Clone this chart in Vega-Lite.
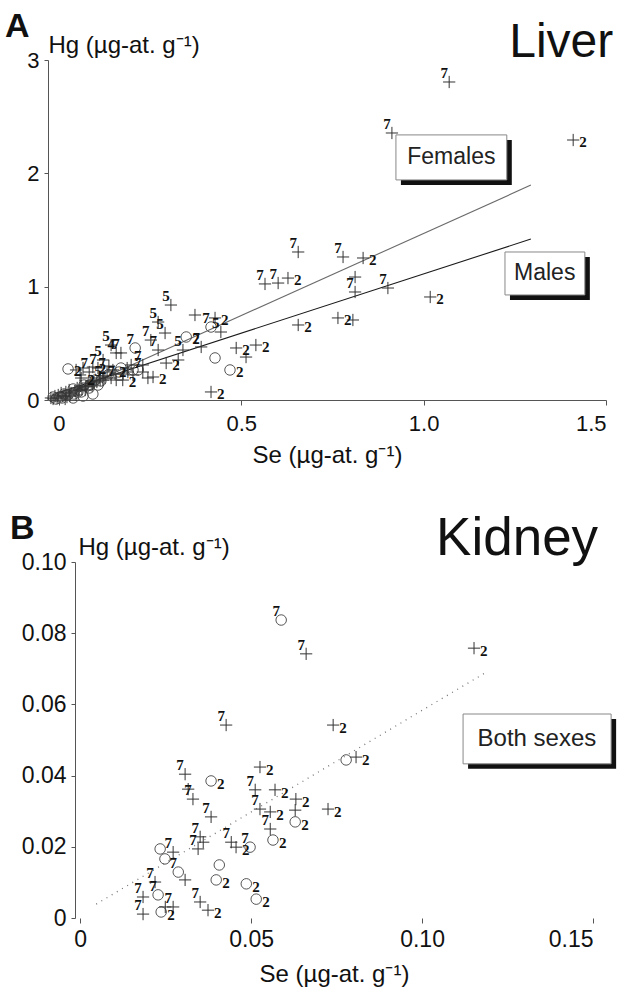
{
  "$schema": "https://vega.github.io/schema/vega-lite/v6.json",
  "background": "white",
  "padding": {"left": 4, "top": 9, "right": 2, "bottom": 2},
  "spacing": 44,
  "config": {
    "view": {"stroke": null},
    "font": "Liberation Sans",
    "axis": {"grid": false, "domainColor": "#555", "tickColor": "#555", "labelColor": "#111", "titleColor": "#111", "labelFont": "Liberation Sans", "titleFont": "Liberation Sans", "titleFontWeight": "normal", "tickSize": 5}
  },
  "datasets": {
    "liver": [
      {"se": 1.070, "hg": 2.806, "sex": "M", "lab": "7"},
      {"se": 0.913, "hg": 2.356, "sex": "M", "lab": "7"},
      {"se": 1.410, "hg": 2.294, "sex": "M", "lab": "2"},
      {"se": 0.656, "hg": 1.306, "sex": "M", "lab": "7"},
      {"se": 0.779, "hg": 1.262, "sex": "M", "lab": "7"},
      {"se": 0.834, "hg": 1.253, "sex": "M", "lab": "2"},
      {"se": 0.812, "hg": 1.085, "sex": "M", "lab": ""},
      {"se": 0.812, "hg": 0.953, "sex": "M", "lab": "7"},
      {"se": 0.902, "hg": 0.988, "sex": "M", "lab": "7"},
      {"se": 1.018, "hg": 0.909, "sex": "M", "lab": "2"},
      {"se": 0.765, "hg": 0.724, "sex": "M", "lab": "2"},
      {"se": 0.806, "hg": 0.706, "sex": "M", "lab": ""},
      {"se": 0.565, "hg": 1.024, "sex": "M", "lab": "7"},
      {"se": 0.601, "hg": 1.032, "sex": "M", "lab": "7"},
      {"se": 0.628, "hg": 1.076, "sex": "M", "lab": "2"},
      {"se": 0.656, "hg": 0.662, "sex": "M", "lab": "2"},
      {"se": 0.307, "hg": 0.838, "sex": "M", "lab": "5"},
      {"se": 0.373, "hg": 0.750, "sex": "M", "lab": ""},
      {"se": 0.428, "hg": 0.724, "sex": "M", "lab": "2"},
      {"se": 0.417, "hg": 0.644, "sex": "F", "lab": "7"},
      {"se": 0.444, "hg": 0.600, "sex": "M", "lab": "5"},
      {"se": 0.349, "hg": 0.556, "sex": "F", "lab": "2"},
      {"se": 0.272, "hg": 0.688, "sex": "M", "lab": "5"},
      {"se": 0.291, "hg": 0.591, "sex": "M", "lab": "5"},
      {"se": 0.390, "hg": 0.468, "sex": "M", "lab": "7"},
      {"se": 0.340, "hg": 0.441, "sex": "M", "lab": "5"},
      {"se": 0.486, "hg": 0.459, "sex": "M", "lab": "2"},
      {"se": 0.540, "hg": 0.485, "sex": "M", "lab": "2"},
      {"se": 0.513, "hg": 0.379, "sex": "M", "lab": ""},
      {"se": 0.428, "hg": 0.371, "sex": "F", "lab": ""},
      {"se": 0.469, "hg": 0.265, "sex": "F", "lab": "2"},
      {"se": 0.417, "hg": 0.071, "sex": "M", "lab": "2"},
      {"se": 0.025, "hg": 0.274, "sex": "F", "lab": "2"},
      {"se": 0.157, "hg": 0.415, "sex": "M", "lab": "4"},
      {"se": 0.170, "hg": 0.415, "sex": "M", "lab": "7"},
      {"se": 0.143, "hg": 0.485, "sex": "M", "lab": "5"},
      {"se": 0.121, "hg": 0.353, "sex": "M", "lab": "5"},
      {"se": 0.209, "hg": 0.459, "sex": "F", "lab": "7"},
      {"se": 0.252, "hg": 0.529, "sex": "M", "lab": "7"},
      {"se": 0.272, "hg": 0.441, "sex": "M", "lab": "7"},
      {"se": 0.258, "hg": 0.203, "sex": "M", "lab": "2"},
      {"se": 0.294, "hg": 0.326, "sex": "M", "lab": "2"},
      {"se": 0.175, "hg": 0.176, "sex": "M", "lab": "2"},
      {"se": 0.157, "hg": 0.176, "sex": "M", "lab": "7"},
      {"se": 0.121, "hg": 0.176, "sex": "M", "lab": "5"},
      {"se": 0.058, "hg": 0.221, "sex": "M", "lab": ""},
      {"se": 0.047, "hg": 0.265, "sex": "M", "lab": ""},
      {"se": 0.066, "hg": 0.282, "sex": "M", "lab": ""},
      {"se": 0.093, "hg": 0.291, "sex": "M", "lab": "2"},
      {"se": 0.107, "hg": 0.282, "sex": "M", "lab": "7"},
      {"se": 0.230, "hg": 0.309, "sex": "M", "lab": "7"},
      {"se": 0.203, "hg": 0.265, "sex": "F", "lab": ""},
      {"se": 0.327, "hg": 0.353, "sex": "M", "lab": ""},
      {"se": -0.022, "hg": 0.018, "sex": "M", "lab": ""},
      {"se": -0.016, "hg": 0.026, "sex": "F", "lab": ""},
      {"se": -0.011, "hg": 0.035, "sex": "M", "lab": ""},
      {"se": -0.008, "hg": 0.009, "sex": "F", "lab": ""},
      {"se": -0.002, "hg": 0.044, "sex": "M", "lab": ""},
      {"se": 0.003, "hg": 0.026, "sex": "F", "lab": ""},
      {"se": 0.006, "hg": 0.062, "sex": "M", "lab": ""},
      {"se": 0.011, "hg": 0.035, "sex": "M", "lab": ""},
      {"se": 0.014, "hg": 0.053, "sex": "F", "lab": ""},
      {"se": 0.019, "hg": 0.071, "sex": "M", "lab": ""},
      {"se": 0.025, "hg": 0.044, "sex": "F", "lab": ""},
      {"se": 0.028, "hg": 0.088, "sex": "M", "lab": ""},
      {"se": 0.033, "hg": 0.062, "sex": "M", "lab": ""},
      {"se": 0.039, "hg": 0.097, "sex": "F", "lab": ""},
      {"se": 0.044, "hg": 0.079, "sex": "M", "lab": ""},
      {"se": 0.050, "hg": 0.106, "sex": "M", "lab": ""},
      {"se": 0.052, "hg": 0.071, "sex": "F", "lab": ""},
      {"se": 0.058, "hg": 0.124, "sex": "M", "lab": ""},
      {"se": 0.063, "hg": 0.097, "sex": "M", "lab": ""},
      {"se": 0.069, "hg": 0.132, "sex": "F", "lab": ""},
      {"se": 0.074, "hg": 0.115, "sex": "M", "lab": ""},
      {"se": 0.080, "hg": 0.150, "sex": "M", "lab": ""},
      {"se": 0.085, "hg": 0.132, "sex": "F", "lab": ""},
      {"se": 0.088, "hg": 0.168, "sex": "M", "lab": ""},
      {"se": 0.093, "hg": 0.141, "sex": "M", "lab": ""},
      {"se": 0.099, "hg": 0.176, "sex": "F", "lab": ""},
      {"se": 0.104, "hg": 0.159, "sex": "M", "lab": ""},
      {"se": 0.110, "hg": 0.194, "sex": "M", "lab": ""},
      {"se": 0.115, "hg": 0.168, "sex": "F", "lab": ""},
      {"se": 0.121, "hg": 0.212, "sex": "M", "lab": ""},
      {"se": 0.017, "hg": 0.009, "sex": "M", "lab": ""},
      {"se": 0.039, "hg": 0.018, "sex": "F", "lab": ""},
      {"se": 0.066, "hg": 0.035, "sex": "F", "lab": ""},
      {"se": 0.093, "hg": 0.053, "sex": "F", "lab": ""},
      {"se": 0.061, "hg": 0.194, "sex": "M", "lab": "2"},
      {"se": 0.083, "hg": 0.247, "sex": "M", "lab": "7"},
      {"se": 0.132, "hg": 0.247, "sex": "M", "lab": "7"},
      {"se": 0.148, "hg": 0.265, "sex": "M", "lab": "2"},
      {"se": 0.137, "hg": 0.300, "sex": "M", "lab": ""},
      {"se": 0.170, "hg": 0.282, "sex": "F", "lab": ""},
      {"se": 0.189, "hg": 0.247, "sex": "M", "lab": ""},
      {"se": 0.198, "hg": 0.309, "sex": "M", "lab": ""},
      {"se": 0.230, "hg": 0.247, "sex": "M", "lab": "7"},
      {"se": 0.244, "hg": 0.194, "sex": "M", "lab": ""},
      {"se": -0.016, "hg": 0.009, "sex": "M", "lab": ""},
      {"se": -0.005, "hg": 0.018, "sex": "M", "lab": ""},
      {"se": 0.008, "hg": 0.018, "sex": "F", "lab": ""},
      {"se": 0.022, "hg": 0.026, "sex": "M", "lab": ""},
      {"se": 0.030, "hg": 0.035, "sex": "M", "lab": ""},
      {"se": 0.041, "hg": 0.053, "sex": "F", "lab": ""},
      {"se": 0.047, "hg": 0.044, "sex": "M", "lab": ""},
      {"se": 0.055, "hg": 0.088, "sex": "M", "lab": ""},
      {"se": 0.061, "hg": 0.071, "sex": "F", "lab": ""},
      {"se": 0.072, "hg": 0.088, "sex": "M", "lab": ""},
      {"se": 0.077, "hg": 0.124, "sex": "M", "lab": ""},
      {"se": 0.083, "hg": 0.106, "sex": "F", "lab": ""},
      {"se": 0.091, "hg": 0.124, "sex": "M", "lab": ""},
      {"se": 0.096, "hg": 0.159, "sex": "M", "lab": ""},
      {"se": 0.107, "hg": 0.132, "sex": "F", "lab": ""},
      {"se": 0.113, "hg": 0.176, "sex": "M", "lab": ""},
      {"se": 0.126, "hg": 0.194, "sex": "M", "lab": ""},
      {"se": 0.135, "hg": 0.221, "sex": "F", "lab": ""},
      {"se": 0.143, "hg": 0.194, "sex": "M", "lab": ""},
      {"se": 0.154, "hg": 0.229, "sex": "M", "lab": ""},
      {"se": 0.165, "hg": 0.247, "sex": "F", "lab": ""},
      {"se": 0.176, "hg": 0.229, "sex": "M", "lab": ""},
      {"se": 0.187, "hg": 0.282, "sex": "M", "lab": ""},
      {"se": 0.203, "hg": 0.221, "sex": "M", "lab": ""},
      {"se": 0.217, "hg": 0.265, "sex": "F", "lab": ""}
    ],
    "kidney": [
      {"se": 0.0588, "hg": 0.0837, "sex": "F", "lab": "7"},
      {"se": 0.0661, "hg": 0.0742, "sex": "M", "lab": "7"},
      {"se": 0.1152, "hg": 0.0758, "sex": "M", "lab": "2"},
      {"se": 0.0740, "hg": 0.0542, "sex": "M", "lab": "2"},
      {"se": 0.0778, "hg": 0.0444, "sex": "F", "lab": ""},
      {"se": 0.0807, "hg": 0.0452, "sex": "M", "lab": "2"},
      {"se": 0.0427, "hg": 0.0542, "sex": "M", "lab": "7"},
      {"se": 0.0526, "hg": 0.0424, "sex": "M", "lab": "2"},
      {"se": 0.0307, "hg": 0.0404, "sex": "M", "lab": "7"},
      {"se": 0.0383, "hg": 0.0385, "sex": "F", "lab": "2"},
      {"se": 0.0316, "hg": 0.0362, "sex": "M", "lab": ""},
      {"se": 0.0330, "hg": 0.0334, "sex": "M", "lab": "7"},
      {"se": 0.0512, "hg": 0.0360, "sex": "M", "lab": "7"},
      {"se": 0.0570, "hg": 0.0360, "sex": "M", "lab": "2"},
      {"se": 0.0631, "hg": 0.0334, "sex": "M", "lab": "2"},
      {"se": 0.0629, "hg": 0.0303, "sex": "M", "lab": ""},
      {"se": 0.0526, "hg": 0.0306, "sex": "M", "lab": "7"},
      {"se": 0.0556, "hg": 0.0298, "sex": "M", "lab": "2"},
      {"se": 0.0725, "hg": 0.0306, "sex": "M", "lab": "2"},
      {"se": 0.0383, "hg": 0.0284, "sex": "M", "lab": "7"},
      {"se": 0.0629, "hg": 0.0270, "sex": "F", "lab": "2"},
      {"se": 0.0556, "hg": 0.0250, "sex": "M", "lab": "7"},
      {"se": 0.0564, "hg": 0.0219, "sex": "F", "lab": "2"},
      {"se": 0.0351, "hg": 0.0228, "sex": "M", "lab": "7"},
      {"se": 0.0360, "hg": 0.0213, "sex": "M", "lab": ""},
      {"se": 0.0345, "hg": 0.0194, "sex": "M", "lab": "7"},
      {"se": 0.0442, "hg": 0.0213, "sex": "M", "lab": "7"},
      {"se": 0.0456, "hg": 0.0199, "sex": "M", "lab": "2"},
      {"se": 0.0497, "hg": 0.0199, "sex": "F", "lab": "7"},
      {"se": 0.0234, "hg": 0.0194, "sex": "F", "lab": ""},
      {"se": 0.0272, "hg": 0.0185, "sex": "M", "lab": "7"},
      {"se": 0.0248, "hg": 0.0166, "sex": "F", "lab": ""},
      {"se": 0.0287, "hg": 0.0129, "sex": "F", "lab": "7"},
      {"se": 0.0307, "hg": 0.0107, "sex": "M", "lab": ""},
      {"se": 0.0407, "hg": 0.0149, "sex": "F", "lab": ""},
      {"se": 0.0398, "hg": 0.0107, "sex": "F", "lab": "2"},
      {"se": 0.0486, "hg": 0.0096, "sex": "F", "lab": "2"},
      {"se": 0.0515, "hg": 0.0053, "sex": "F", "lab": "2"},
      {"se": 0.0219, "hg": 0.0101, "sex": "M", "lab": "7"},
      {"se": 0.0184, "hg": 0.0059, "sex": "M", "lab": "7"},
      {"se": 0.0228, "hg": 0.0065, "sex": "F", "lab": "7"},
      {"se": 0.0184, "hg": 0.0011, "sex": "M", "lab": "7"},
      {"se": 0.0237, "hg": 0.0017, "sex": "F", "lab": "2"},
      {"se": 0.0249, "hg": 0.0031, "sex": "M", "lab": ""},
      {"se": 0.0272, "hg": 0.0031, "sex": "M", "lab": "7"},
      {"se": 0.0351, "hg": 0.0045, "sex": "M", "lab": "7"},
      {"se": 0.0374, "hg": 0.0022, "sex": "M", "lab": "2"}
    ],
    "liverLines": [
      {"se": 0.0, "hg": 0.02, "g": "Females"},
      {"se": 1.294, "hg": 1.896, "g": "Females"},
      {"se": 0.0, "hg": 0.067, "g": "Males"},
      {"se": 1.294, "hg": 1.42, "g": "Males"}
    ],
    "kidneyLine": [
      {"se": 0.0047, "hg": 0.0039},
      {"se": 0.1187, "hg": 0.069}
    ],
    "liverBoxes": [
      {"se": 0.924, "se2": 1.228, "hg": 1.942, "hg2": 2.339, "cx": 1.076, "cy": 2.14, "t": "Females"},
      {"se": 1.223, "se2": 1.442, "hg": 0.927, "hg2": 1.306, "cx": 1.332, "cy": 1.117, "t": "Males"}
    ],
    "kidneyBoxes": [
      {"se": 0.112, "se2": 0.1553, "hg": 0.0433, "hg2": 0.0573, "cx": 0.1336, "cy": 0.0503, "t": "Both sexes"}
    ],
    "liverText": [
      {"cx": 1.52, "cy": 3.03, "t": "Liver", "k": "title"},
      {"cx": -0.148, "cy": 3.204, "t": "A", "k": "letter"}
    ],
    "kidneyText": [
      {"cx": 0.1515, "cy": 0.102, "t": "Kidney", "k": "title"},
      {"cx": -0.0205, "cy": 0.1065, "t": "B", "k": "letter"}
    ]
  },
  "vconcat": [
    {
      "width": 558,
      "height": 340,
      "layer": [
        {
          "data": {"name": "liverLines"},
          "mark": {"type": "line", "strokeWidth": 1.1},
          "encoding": {
            "x": {"field": "se", "type": "quantitative", "scale": {"domain": [-0.03, 1.5], "nice": false, "zero": false},
              "axis": {"values": [0, 0.5, 1, 1.5], "labelExpr": "datum.value == 0 ? '0' : format(datum.value, '.1f')", "title": "Se (µg-at. g⁻¹)", "labelFontSize": 22, "titleFontSize": 24, "labelPadding": 8, "titlePadding": 9}},
            "y": {"field": "hg", "type": "quantitative", "scale": {"domain": [0, 3], "nice": false, "zero": false},
              "axis": {"values": [0, 1, 2, 3], "format": "d", "title": "Hg (µg-at. g⁻¹)", "titleAngle": 0, "titleAlign": "left", "titleBaseline": "alphabetic", "titleX": 0, "titleY": -8, "titleFontSize": 24, "labelFontSize": 22, "tickSize": 4, "labelPadding": 5}},
            "detail": {"field": "g"},
            "color": {"field": "g", "type": "nominal", "scale": {"domain": ["Females", "Males"], "range": ["#6a6a6a", "#1a1a1a"]}, "legend": null}
          }
        },
        {
          "data": {"name": "liverBoxes"},
          "mark": {"type": "rect", "fill": "#111", "xOffset": 5, "x2Offset": 5, "yOffset": 5, "y2Offset": 5},
          "encoding": {
            "x": {"field": "se", "type": "quantitative"}, "x2": {"field": "se2"},
            "y": {"field": "hg", "type": "quantitative"}, "y2": {"field": "hg2"}
          }
        },
        {
          "data": {"name": "liverBoxes"},
          "mark": {"type": "rect", "fill": "white", "stroke": "#888", "strokeWidth": 1},
          "encoding": {
            "x": {"field": "se", "type": "quantitative"}, "x2": {"field": "se2"},
            "y": {"field": "hg", "type": "quantitative"}, "y2": {"field": "hg2"}
          }
        },
        {
          "data": {"name": "liverBoxes"},
          "mark": {"type": "text", "fontSize": 23, "align": "center", "baseline": "middle", "color": "#222"},
          "encoding": {
            "x": {"field": "cx", "type": "quantitative"},
            "y": {"field": "cy", "type": "quantitative"},
            "text": {"field": "t"}
          }
        },
        {
          "data": {"name": "liver"},
          "transform": [{"filter": "datum.sex == 'F'"}],
          "mark": {"type": "point", "shape": "circle", "filled": false, "stroke": "#555", "strokeWidth": 1, "size": 110, "opacity": 1},
          "encoding": {
            "x": {"field": "se", "type": "quantitative"},
            "y": {"field": "hg", "type": "quantitative"}
          }
        },
        {
          "data": {"name": "liver"},
          "transform": [{"filter": "datum.sex == 'M'"}],
          "mark": {"type": "point", "shape": "M-1,0H1M0,-1V1", "filled": false, "stroke": "#333", "strokeWidth": 1, "size": 150, "opacity": 1},
          "encoding": {
            "x": {"field": "se", "type": "quantitative"},
            "y": {"field": "hg", "type": "quantitative"}
          }
        },
        {
          "data": {"name": "liver"},
          "transform": [{"filter": "datum.lab == '7' || datum.lab == '5' || datum.lab == '4'"}],
          "mark": {"type": "text", "font": "Liberation Sans Narrow", "fontWeight": "bold", "fontSize": 15, "dx": -5, "dy": -9, "align": "center", "baseline": "middle", "color": "#111"},
          "encoding": {
            "x": {"field": "se", "type": "quantitative"},
            "y": {"field": "hg", "type": "quantitative"},
            "text": {"field": "lab"}
          }
        },
        {
          "data": {"name": "liver"},
          "transform": [{"filter": "datum.lab == '2'"}],
          "mark": {"type": "text", "font": "Liberation Sans Narrow", "fontWeight": "bold", "fontSize": 15, "dx": 6, "dy": 2, "align": "left", "baseline": "middle", "color": "#111"},
          "encoding": {
            "x": {"field": "se", "type": "quantitative"},
            "y": {"field": "hg", "type": "quantitative"},
            "text": {"field": "lab"}
          }
        },
        {
          "data": {"name": "liverText"},
          "transform": [{"filter": "datum.k == 'title'"}],
          "mark": {"type": "text", "fontSize": 48, "align": "right", "baseline": "alphabetic", "color": "#111"},
          "encoding": {
            "x": {"field": "cx", "type": "quantitative"},
            "y": {"field": "cy", "type": "quantitative"},
            "text": {"field": "t"}
          }
        },
        {
          "data": {"name": "liverText"},
          "transform": [{"filter": "datum.k == 'letter'"}],
          "mark": {"type": "text", "fontSize": 34, "fontWeight": "bold", "align": "left", "baseline": "alphabetic", "color": "#111"},
          "encoding": {
            "x": {"field": "cx", "type": "quantitative"},
            "y": {"field": "cy", "type": "quantitative"},
            "text": {"field": "t"}
          }
        }
      ]
    },
    {
      "width": 545,
      "height": 356,
      "layer": [
        {
          "data": {"name": "kidneyLine"},
          "mark": {"type": "line", "strokeWidth": 1.3, "strokeDash": [1, 5], "color": "#777"},
          "encoding": {
            "x": {"field": "se", "type": "quantitative", "scale": {"domain": [-0.0094, 0.15], "nice": false, "zero": false},
              "axis": {"values": [0, 0.05, 0.1, 0.15], "domain": false, "labelExpr": "datum.value == 0 ? '0' : format(datum.value, '.2f')", "title": "Se (µg-at. g⁻¹)", "titleX": 286, "labelFontSize": 23, "titleFontSize": 24, "labelPadding": 5, "titlePadding": 11}},
            "y": {"field": "hg", "type": "quantitative", "scale": {"domain": [0, 0.1], "nice": false, "zero": false},
              "axis": {"values": [0, 0.02, 0.04, 0.06, 0.08, 0.1], "offset": -27, "labelExpr": "datum.value == 0 ? '0' : format(datum.value, '.2f')", "title": "Hg (µg-at. g⁻¹)", "titleAngle": 0, "titleAlign": "left", "titleBaseline": "alphabetic", "titleX": 3, "titleY": -8, "titleFontSize": 24, "labelFontSize": 23, "tickSize": 4, "labelPadding": 5}}
          }
        },
        {
          "mark": {"type": "rule", "color": "#555", "strokeWidth": 1},
          "encoding": {
            "x": {"datum": -0.0015, "type": "quantitative"},
            "x2": {"datum": 0.15},
            "y": {"datum": 0, "type": "quantitative"}
          }
        },
        {
          "data": {"name": "kidneyBoxes"},
          "mark": {"type": "rect", "fill": "#111", "xOffset": 5, "x2Offset": 5, "yOffset": 5, "y2Offset": 5},
          "encoding": {
            "x": {"field": "se", "type": "quantitative"}, "x2": {"field": "se2"},
            "y": {"field": "hg", "type": "quantitative"}, "y2": {"field": "hg2"}
          }
        },
        {
          "data": {"name": "kidneyBoxes"},
          "mark": {"type": "rect", "fill": "white", "stroke": "#888", "strokeWidth": 1},
          "encoding": {
            "x": {"field": "se", "type": "quantitative"}, "x2": {"field": "se2"},
            "y": {"field": "hg", "type": "quantitative"}, "y2": {"field": "hg2"}
          }
        },
        {
          "data": {"name": "kidneyBoxes"},
          "mark": {"type": "text", "fontSize": 24, "align": "center", "baseline": "middle", "color": "#222"},
          "encoding": {
            "x": {"field": "cx", "type": "quantitative"},
            "y": {"field": "cy", "type": "quantitative"},
            "text": {"field": "t"}
          }
        },
        {
          "data": {"name": "kidney"},
          "transform": [{"filter": "datum.sex == 'F'"}],
          "mark": {"type": "point", "shape": "circle", "filled": false, "stroke": "#555", "strokeWidth": 1, "size": 110, "opacity": 1},
          "encoding": {
            "x": {"field": "se", "type": "quantitative"},
            "y": {"field": "hg", "type": "quantitative"}
          }
        },
        {
          "data": {"name": "kidney"},
          "transform": [{"filter": "datum.sex == 'M'"}],
          "mark": {"type": "point", "shape": "M-1,0H1M0,-1V1", "filled": false, "stroke": "#333", "strokeWidth": 1, "size": 150, "opacity": 1},
          "encoding": {
            "x": {"field": "se", "type": "quantitative"},
            "y": {"field": "hg", "type": "quantitative"}
          }
        },
        {
          "data": {"name": "kidney"},
          "transform": [{"filter": "datum.lab == '7'"}],
          "mark": {"type": "text", "font": "Liberation Sans Narrow", "fontWeight": "bold", "fontSize": 15, "dx": -5, "dy": -9, "align": "center", "baseline": "middle", "color": "#111"},
          "encoding": {
            "x": {"field": "se", "type": "quantitative"},
            "y": {"field": "hg", "type": "quantitative"},
            "text": {"field": "lab"}
          }
        },
        {
          "data": {"name": "kidney"},
          "transform": [{"filter": "datum.lab == '2'"}],
          "mark": {"type": "text", "font": "Liberation Sans Narrow", "fontWeight": "bold", "fontSize": 15, "dx": 6, "dy": 3, "align": "left", "baseline": "middle", "color": "#111"},
          "encoding": {
            "x": {"field": "se", "type": "quantitative"},
            "y": {"field": "hg", "type": "quantitative"},
            "text": {"field": "lab"}
          }
        },
        {
          "data": {"name": "kidneyText"},
          "transform": [{"filter": "datum.k == 'title'"}],
          "mark": {"type": "text", "fontSize": 53, "align": "right", "baseline": "alphabetic", "color": "#111"},
          "encoding": {
            "x": {"field": "cx", "type": "quantitative"},
            "y": {"field": "cy", "type": "quantitative"},
            "text": {"field": "t"}
          }
        },
        {
          "data": {"name": "kidneyText"},
          "transform": [{"filter": "datum.k == 'letter'"}],
          "mark": {"type": "text", "fontSize": 34, "fontWeight": "bold", "align": "left", "baseline": "alphabetic", "color": "#111"},
          "encoding": {
            "x": {"field": "cx", "type": "quantitative"},
            "y": {"field": "cy", "type": "quantitative"},
            "text": {"field": "t"}
          }
        }
      ]
    }
  ]
}
